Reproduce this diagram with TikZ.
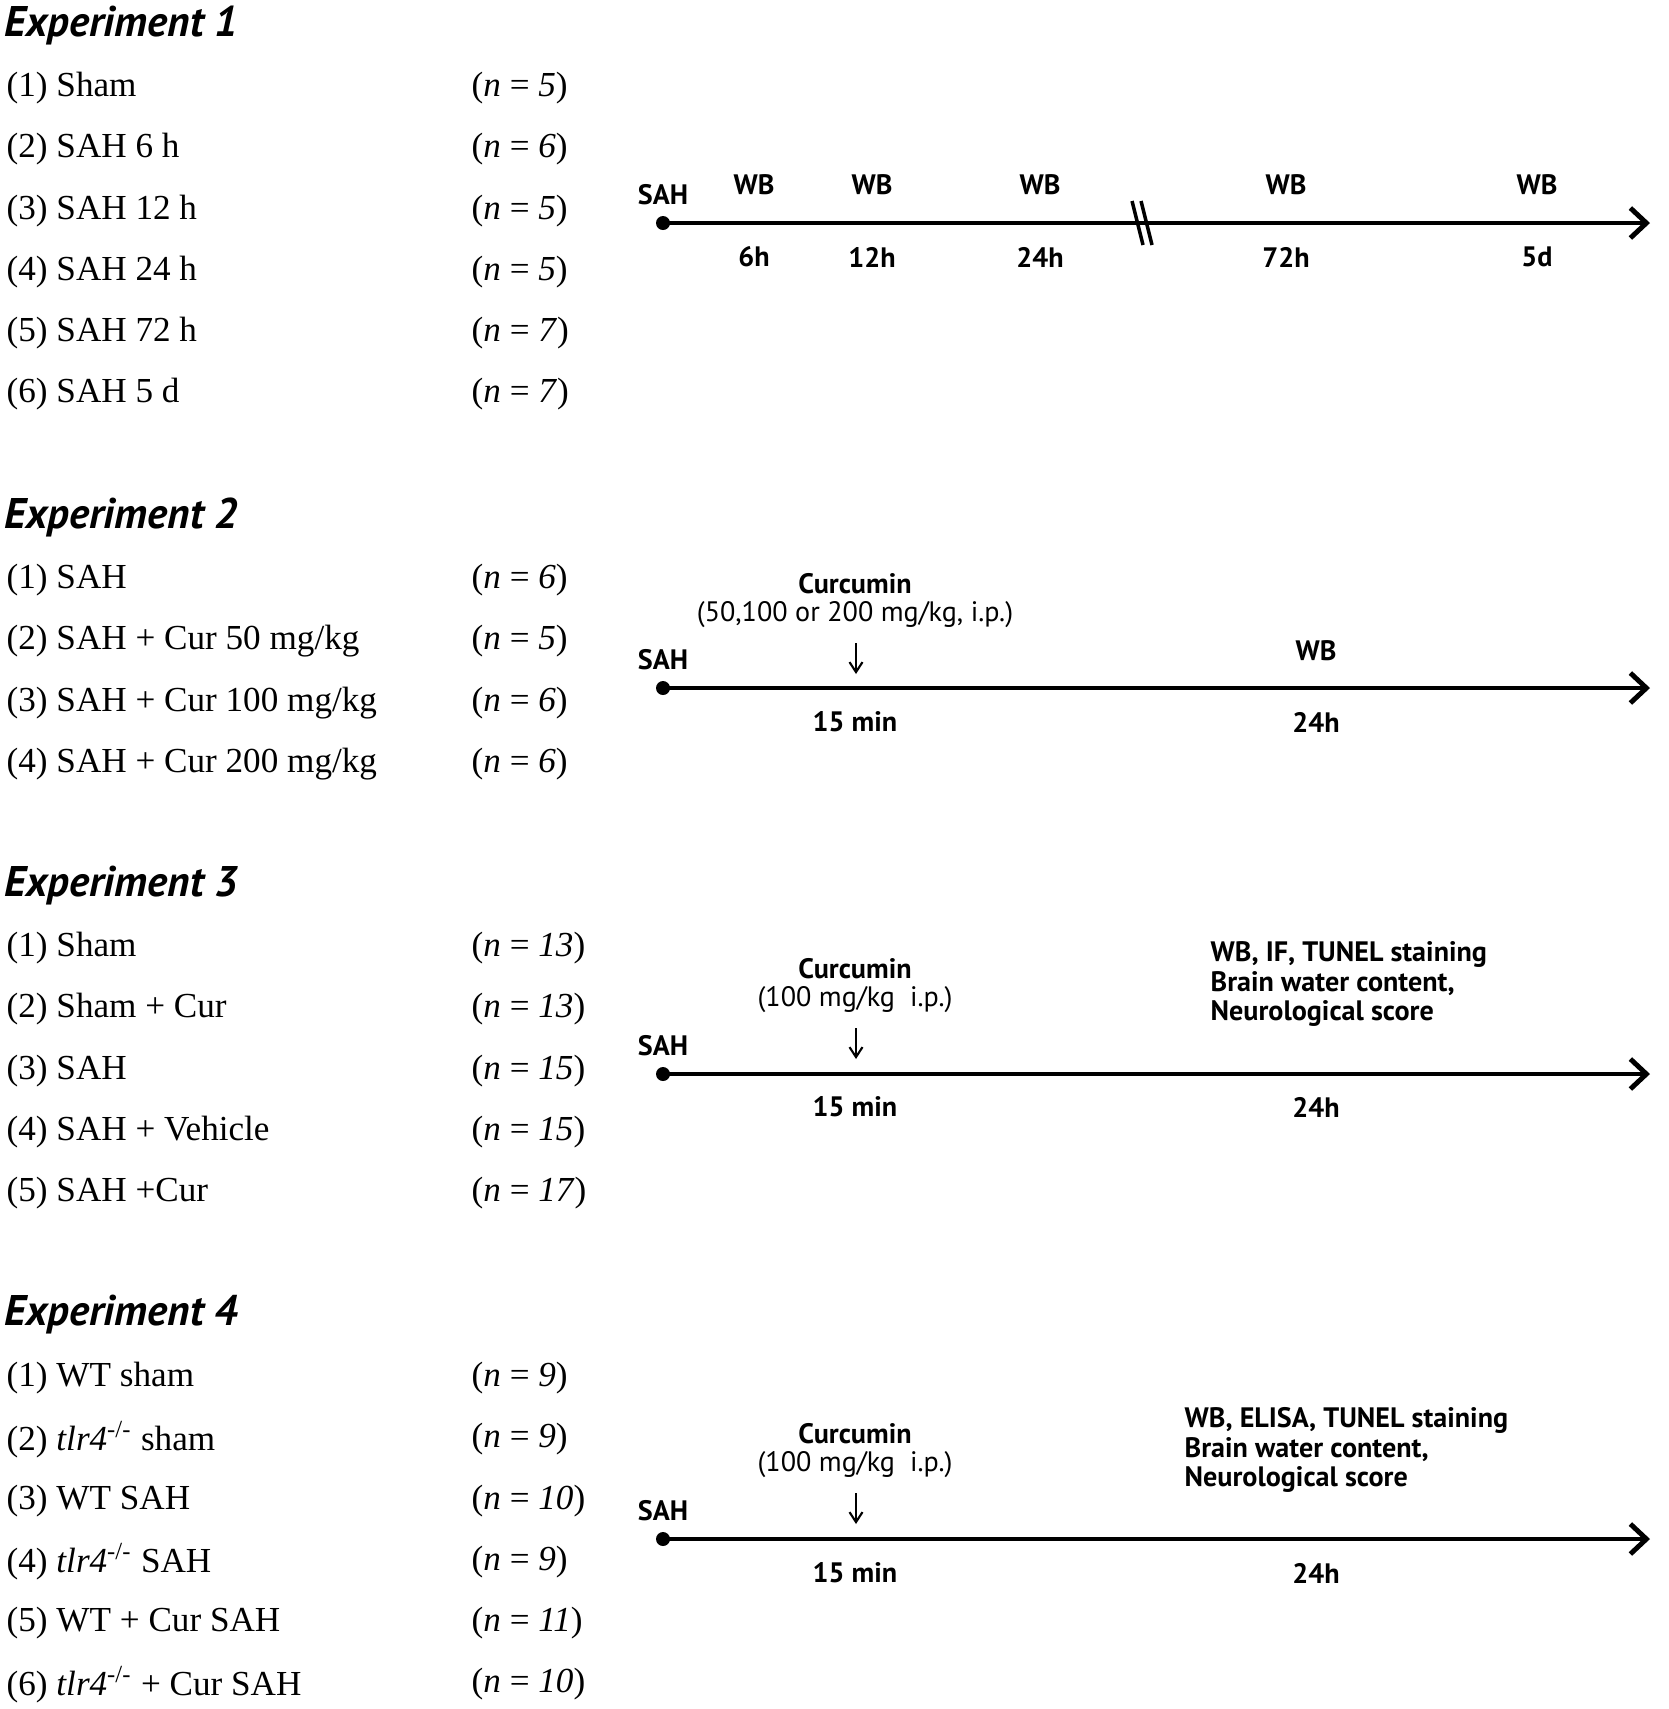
\documentclass[tikz,border=0pt]{standalone}
\usepackage{fontspec}
\setmainfont{Liberation Serif}
\setsansfont{PT Sans}
\usetikzlibrary{arrows.meta, positioning}
\def\rowsep{61.3}
\def\tlstart{663}
\def\tlend{1650}
\tikzstyle{group}=[anchor=west, inner sep=0pt, font=\fontsize{10}{12}\selectfont]
\tikzstyle{ncount}=[group]
\tikzstyle{heading}=[anchor=west, inner sep=0pt, font=\sffamily\bfseries\itshape\fontsize{12.2}{14}\selectfont]
\tikzstyle{tl label}=[inner sep=0pt, font=\sffamily\bfseries\fontsize{8}{8.5}\selectfont]
\tikzstyle{tl note}=[inner sep=0pt, font=\sffamily\fontsize{8}{8.5}\selectfont]
\tikzstyle{tl start}=[circle, fill=black, inner sep=0pt, minimum size=1.4mm]
\tikzstyle{timeline}=[line width=1.4pt, -{Straight Barb[length=1.6mm,width=3mm,line width=1.4pt]}]
\tikzstyle{dose}=[line width=0.6pt, -{Straight Barb[length=1mm,width=1.3mm]}]

\begin{document}
\begin{tikzpicture}[x=0.1mm, y=-0.1mm]
		\useasboundingbox (0,0) rectangle (1669,1709);

		% Experiment 1: groups
		\node[heading] (h-1) at (4, 26) {Experiment 1};
		\foreach \i/\txt/\n in {1/Sham/5, 2/SAH 6 h/6, 3/SAH 12 h/5, 4/SAH 24 h/5, 5/SAH 72 h/7, 6/SAH 5 d/7}
		{
		\node[group] (g-1-\i) at (6, 88 + \rowsep * \i - \rowsep) {(\i) \txt};
		\node[ncount] (n-1-\i) at (471, 88 + \rowsep * \i - \rowsep) {(\textit{n} = \textit{\n})};
		}

		% Experiment 1: time line with break
		\node[tl start] (s-1) at (\tlstart, 223) {};
		\coordinate (e-1) at (\tlend, 223);
		\node[tl label, above=1mm of s-1] (sah-1) {SAH};
		\draw[timeline] (s-1.center) -- (e-1);
		\foreach \i/\x/\t in {1/754/6h, 2/872/12h, 3/1040/24h, 4/1286/72h, 5/1537/5d}
		{
		\node[tl label] (wb-1-\i) at (\x, 185) {WB};
		\node[tl label] (t-1-\i) at (\x, 257) {\t};
		}
		\draw[line width=1pt] (1132, 201) -- (1143, 245);
		\draw[line width=1pt] (1141, 201) -- (1152, 245);

		% Experiment 2: groups
		\node[heading] (h-2) at (4, 517) {Experiment 2};
		\foreach \i/\txt/\n in {1/SAH/6, 2/{SAH + Cur 50 mg/kg}/5, 3/{SAH + Cur 100 mg/kg}/6, 4/{SAH + Cur 200 mg/kg}/6}
		{
		\node[group] (g-2-\i) at (6, 580 + \rowsep * \i - \rowsep) {(\i) \txt};
		\node[ncount] (n-2-\i) at (471, 580 + \rowsep * \i - \rowsep) {(\textit{n} = \textit{\n})};
		}

		% Experiment 2: time line
		\node[tl start] (s-2) at (\tlstart, 688) {};
		\coordinate (e-2) at (\tlend, 688);
		\node[tl label, above=1mm of s-2] (sah-2) {SAH};
		\draw[timeline] (s-2.center) -- (e-2);
		\node[tl label] (cur-2) at (855, 584) {Curcumin};
		\node[tl note] (dose-2) at (855, 615) {(50,100 or 200 mg/kg, i.p.)};
		\coordinate (in-2) at (856, 643);
		\coordinate (at-2) at (856, 674);
		\draw[dose] (in-2) -- (at-2);
		\node[tl label] (t-2-1) at (855, 722) {15 min};
		\node[tl label] (wb-2) at (1316, 651) {WB};
		\node[tl label] (t-2-2) at (1316, 722) {24h};

		% Experiment 3: groups
		\node[heading] (h-3) at (4, 886) {Experiment 3};
		\foreach \i/\txt/\n in {1/Sham/13, 2/Sham + Cur/13, 3/SAH/15, 4/SAH + Vehicle/15, 5/SAH +Cur/17}
		{
		\node[group] (g-3-\i) at (6, 948 + \rowsep * \i - \rowsep) {(\i) \txt};
		\node[ncount] (n-3-\i) at (471, 948 + \rowsep * \i - \rowsep) {(\textit{n} = \textit{\n})};
		}

		% Experiment 3: time line
		\node[tl start] (s-3) at (\tlstart, 1074) {};
		\coordinate (e-3) at (\tlend, 1074);
		\node[tl label, above=1mm of s-3] (sah-3) {SAH};
		\draw[timeline] (s-3.center) -- (e-3);
		\node[tl label] (cur-3) at (855, 969) {Curcumin};
		\node[tl note] (dose-3) at (855, 1000) {(100 mg/kg\ \ i.p.)};
		\coordinate (in-3) at (856, 1028);
		\coordinate (at-3) at (856, 1059);
		\draw[dose] (in-3) -- (at-3);
		\node[tl label] (t-3-1) at (855, 1107) {15 min};
		\node[tl label, anchor=west, align=left] (out-3) at (1210, 984) {WB, IF, TUNEL staining\\Brain water content,\\Neurological score};
		\node[tl label] (t-3-2) at (1316, 1107) {24h};

		% Experiment 4: groups
		\node[heading] (h-4) at (4, 1315) {Experiment 4};
		\foreach \i/\txt/\n in {1/WT sham/9, 2/\textit{tlr4}\textsuperscript{-/-} sham/9, 3/WT SAH/10, 4/\textit{tlr4}\textsuperscript{-/-} SAH/9, 5/WT + Cur SAH/11, 6/\textit{tlr4}\textsuperscript{-/-} + Cur SAH/10}
		{
		\node[group] (g-4-\i) at (6, 1378 + \rowsep * \i - \rowsep) {(\i) \txt};
		\node[ncount] (n-4-\i) at (471, 1378 + \rowsep * \i - \rowsep) {(\textit{n} = \textit{\n})};
		}

		% Experiment 4: time line
		\node[tl start] (s-4) at (\tlstart, 1539) {};
		\coordinate (e-4) at (\tlend, 1539);
		\node[tl label, above=1mm of s-4] (sah-4) {SAH};
		\draw[timeline] (s-4.center) -- (e-4);
		\node[tl label] (cur-4) at (855, 1434) {Curcumin};
		\node[tl note] (dose-4) at (855, 1465) {(100 mg/kg\ \ i.p.)};
		\coordinate (in-4) at (856, 1493);
		\coordinate (at-4) at (856, 1524);
		\draw[dose] (in-4) -- (at-4);
		\node[tl label] (t-4-1) at (855, 1573) {15 min};
		\node[tl label, anchor=west, align=left] (out-4) at (1184, 1450) {WB, ELISA, TUNEL staining\\Brain water content,\\Neurological score};
		\node[tl label] (t-4-2) at (1316, 1573) {24h};
	\end{tikzpicture}
\end{document}
